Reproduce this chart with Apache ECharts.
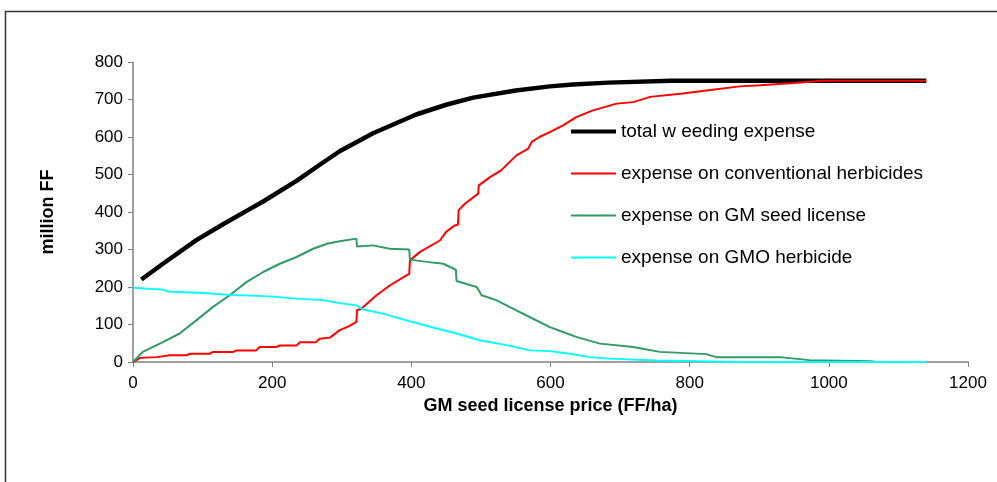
<!DOCTYPE html>
<html>
<head>
<meta charset="utf-8">
<script src="https://cdn.jsdelivr.net/npm/echarts@6/dist/echarts.min.js"></script>
<style>
  html, body { margin: 0; padding: 0; background: #fff; }
  #chart { width: 997px; height: 482px; }
</style>
</head>
<body>
<div id="chart"></div>
<script>
// [license price (FF/ha), million FF]
var totalExpense = [
  [12, 220], [43, 262], [91, 325], [130, 368], [165, 405], [187, 428], [235, 483],
  [270, 528], [297, 562], [345, 610], [407, 660], [450, 686], [489, 705], [550, 724],
  [599, 735], [632, 740], [683, 745], [774, 750], [900, 750], [1140, 750]
]
var conventionalExpense = [
  [0, 0], [5, 5], [10, 11], [34, 13], [53, 18], [77, 18], [82, 22], [110, 22], [115, 27],
  [144, 27], [149, 31], [177, 31], [182, 40], [206, 40], [211, 44], [235, 44], [240, 53],
  [263, 53], [268, 62], [283, 65], [290, 75], [297, 85], [310, 95], [321, 107], [322, 138],
  [328, 142], [350, 178], [369, 204], [393, 231], [397, 235], [398, 271], [412, 293],
  [441, 324], [450, 347], [462, 364], [467, 366], [468, 405], [477, 422], [496, 449],
  [497, 471], [513, 493], [529, 511], [551, 551], [568, 569], [573, 587], [584, 600],
  [599, 613], [618, 631], [637, 653], [661, 671], [695, 689], [719, 693], [743, 707],
  [790, 716], [824, 724], [872, 735], [901, 738], [950, 744], [990, 750], [1140, 750]
]
var seedLicenseExpense = [
  [0, 0], [14, 27], [43, 53], [67, 76], [91, 111], [115, 147], [139, 178], [163, 213],
  [187, 240], [211, 262], [235, 280], [259, 302], [280, 316], [297, 322], [321, 329],
  [322, 308], [345, 311], [369, 302], [397, 300], [398, 273], [422, 267], [446, 262],
  [464, 246], [465, 216], [494, 200], [501, 178], [522, 165], [541, 147], [570, 120],
  [599, 93], [618, 80], [637, 67], [671, 49], [719, 40], [757, 27], [824, 21], [838, 13],
  [930, 13], [972, 5], [1060, 2], [1068, 0], [1140, 0]
]
var gmoHerbicideExpense = [
  [0, 198], [43, 193], [50, 188], [101, 184], [139, 179], [196, 175], [235, 169],
  [273, 165], [297, 157], [321, 151], [331, 140], [359, 129], [393, 111], [431, 92],
  [465, 76], [498, 58], [537, 45], [570, 31], [599, 29], [628, 22], [656, 13], [685, 9],
  [752, 4], [870, 0], [1140, 0]
]
var seriesNames = [
  'total w eeding expense',
  'expense on conventional herbicides',
  'expense on GM seed license',
  'expense on GMO herbicide'
]

var font = 'Liberation Sans, Arial, sans-serif'
var axisColor = '#808080'
// legend keys: plain bars, the first one thicker (box kept at 45x16)
var thickKey = 'path://M0,0M45,16M0,6H45V10H0Z'
var thinKey = 'path://M0,0M45,16M0,7H45V9H0Z'
var plainNumber = function (v) { return String(v) }

var chart = echarts.init(document.getElementById('chart'))
chart.setOption({
  animation: false,
  backgroundColor: '#fff',
  graphic: [{
    type: 'rect',
    shape: { x: 5.5, y: 11.5, width: 1000, height: 480 },
    style: { fill: 'none', stroke: '#333', lineWidth: 1.5 }
  }],
  grid: { left: 133, right: 29, top: 62, bottom: 120 },
  legend: {
    orient: 'vertical',
    left: 566,
    top: 117,
    itemWidth: 45,
    itemHeight: 16,
    itemGap: 23,
    data: [
      { name: seriesNames[0], icon: thickKey },
      { name: seriesNames[1], icon: thinKey },
      { name: seriesNames[2], icon: thinKey },
      { name: seriesNames[3], icon: thinKey }
    ],
    textStyle: { fontFamily: font, fontSize: 19, color: '#000' }
  },
  xAxis: {
    type: 'value',
    min: 0,
    max: 1200,
    interval: 200,
    name: 'GM seed license price (FF/ha)',
    nameLocation: 'middle',
    nameGap: 32,
    nameTextStyle: { fontFamily: font, fontSize: 18, fontWeight: 'bold', color: '#000' },
    splitLine: { show: false },
    axisLine: { lineStyle: { color: axisColor, width: 1.5 } },
    axisTick: { show: true, length: 5, lineStyle: { color: axisColor } },
    axisLabel: { fontFamily: font, fontSize: 17, color: '#000', margin: 13, formatter: plainNumber }
  },
  yAxis: {
    type: 'value',
    min: 0,
    max: 800,
    interval: 100,
    name: 'million FF',
    nameLocation: 'middle',
    nameGap: 76,
    nameTextStyle: { fontFamily: font, fontSize: 18, fontWeight: 'bold', color: '#000' },
    splitLine: { show: false },
    axisLine: { show: true, lineStyle: { color: axisColor, width: 1.5 } },
    axisTick: { show: true, length: 5, lineStyle: { color: axisColor } },
    axisLabel: { fontFamily: font, fontSize: 17, color: '#000', margin: 10, formatter: plainNumber }
  },
  series: [{
    name: seriesNames[0],
    type: 'line',
    symbol: 'none',
    data: totalExpense,
    lineStyle: { color: '#000', width: 4.5 },
    itemStyle: { color: '#000' }
  }, {
    name: seriesNames[1],
    type: 'line',
    symbol: 'none',
    data: conventionalExpense,
    lineStyle: { color: '#ff0000', width: 2 },
    itemStyle: { color: '#ff0000' }
  }, {
    name: seriesNames[2],
    type: 'line',
    symbol: 'none',
    data: seedLicenseExpense,
    lineStyle: { color: '#339966', width: 2 },
    itemStyle: { color: '#339966' }
  }, {
    name: seriesNames[3],
    type: 'line',
    symbol: 'none',
    data: gmoHerbicideExpense,
    lineStyle: { color: '#00ffff', width: 2 },
    itemStyle: { color: '#00ffff' }
  }]
})
</script>
</body>
</html>
